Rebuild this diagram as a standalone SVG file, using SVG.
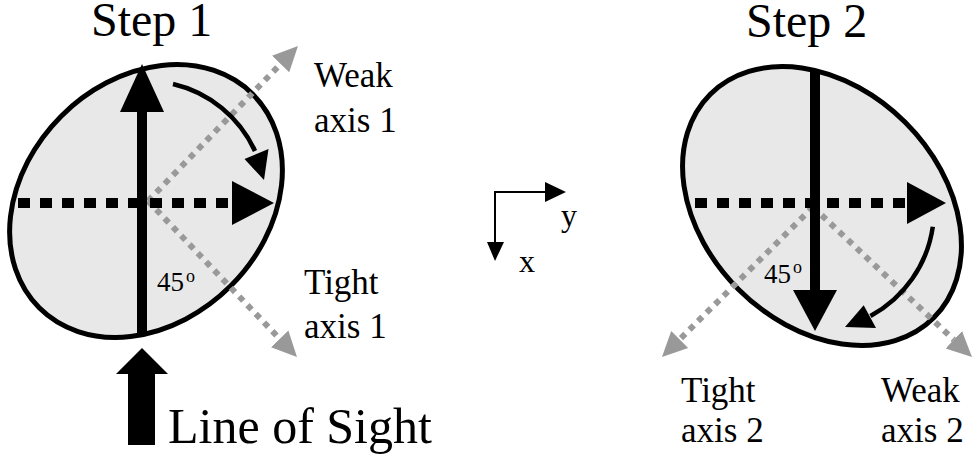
<svg xmlns="http://www.w3.org/2000/svg" width="977" height="462" viewBox="0 0 977 462">
<style>
text{font-family:"Liberation Serif","Times New Roman",serif;fill:#000}
.title{font-size:48px}
.lbl{font-size:35px}
.ang{font-size:27px}
.sup{font-size:18px}
.ell{fill:#e8e8e8;stroke:#000;stroke-width:5}
.gray{stroke:#999;stroke-width:6;stroke-dasharray:6 6;fill:none}
.dash{stroke:#000;stroke-width:10;stroke-dasharray:12 10;fill:none}
.solid{stroke:#000;stroke-width:10;fill:none}
.curve{stroke:#000;stroke-width:4.5;fill:none}
.thin{stroke:#000;stroke-width:2;fill:none}
</style>
<defs>
<marker id="gh" markerUnits="userSpaceOnUse" markerWidth="26" markerHeight="26" refX="0" refY="12" orient="auto" viewBox="0 0 26 24">
<path d="M0,0 L25,12 L0,24 z" fill="#999"/>
</marker>
</defs>
<g id="step1">
<text class="title" x="91" y="36">Step 1</text>
<ellipse class="ell" cx="146" cy="201" rx="151" ry="120" transform="rotate(-45 146 201)"/>
</g>
<g id="step2">
<text class="title" x="746" y="37">Step 2</text>
<ellipse class="ell" cx="822" cy="206" rx="158" ry="118" transform="rotate(45 822 206)"/>
</g>
<g id="connectors">
<line class="gray" x1="148" y1="201" x2="280.6" y2="64" marker-end="url(#gh)"/>
<line class="gray" x1="148" y1="201" x2="279.7" y2="338.9" marker-end="url(#gh)"/>
<line class="gray" x1="813" y1="207" x2="679.7" y2="339.4" marker-end="url(#gh)"/>
<line class="gray" x1="813" y1="207" x2="953.8" y2="339.8" marker-end="url(#gh)"/>
<line class="dash" x1="18" y1="203" x2="233" y2="203"/>
<polygon points="232,181 274,203 232,225"/>
<line class="solid" x1="142" y1="334" x2="142" y2="110"/>
<polygon points="120,112 142,64 164,112"/>
<path class="curve" d="M173,84 A120,120 0 0 1 255,151"/>
<polygon points="244.5,159 268.5,149 264,180"/>
<line class="dash" x1="695" y1="203" x2="908" y2="203"/>
<polygon points="907,182 946,203 907,224"/>
<line class="solid" x1="815" y1="72" x2="815" y2="292"/>
<polygon points="793,290 815,331 837,290"/>
<path class="curve" d="M932.8,226.8 A121,121 0 0 1 870.5,316"/>
<polygon points="876,328 863.7,305.3 845,327"/>
<polygon points="142,348 116,374 128,374 128,445 155,445 155,374 168,374"/>
<line class="thin" x1="495" y1="192" x2="546" y2="192"/>
<polygon points="545,182 566,192 545,202"/>
<line class="thin" x1="495" y1="191" x2="495" y2="243"/>
<polygon points="487,242 504,242 495,261"/>
</g>
<g id="labels1">
<text class="ang" x="157" y="291">45</text><text class="sup" x="186" y="282">o</text>
<text class="lbl" x="314" y="87">Weak</text>
<text class="lbl" x="314" y="132">axis 1</text>
<text class="lbl" x="304" y="294">Tight</text>
<text class="lbl" x="304" y="338">axis 1</text>
</g>
<g id="labels2">
<text class="ang" x="764" y="283">45</text><text class="sup" x="793" y="273">o</text>
<text class="lbl" x="681" y="402">Tight</text>
<text class="lbl" x="681" y="442">axis 2</text>
<text class="lbl" x="881" y="402">Weak</text>
<text class="lbl" x="881" y="442">axis 2</text>
</g>
<g id="lineofsight">
<text x="168" y="443" style="font-size:50px">Line of Sight</text>
</g>
<g id="axes">
<text x="519" y="272" style="font-size:32px">x</text>
<text x="561" y="226" style="font-size:32px">y</text>
</g>
</svg>
